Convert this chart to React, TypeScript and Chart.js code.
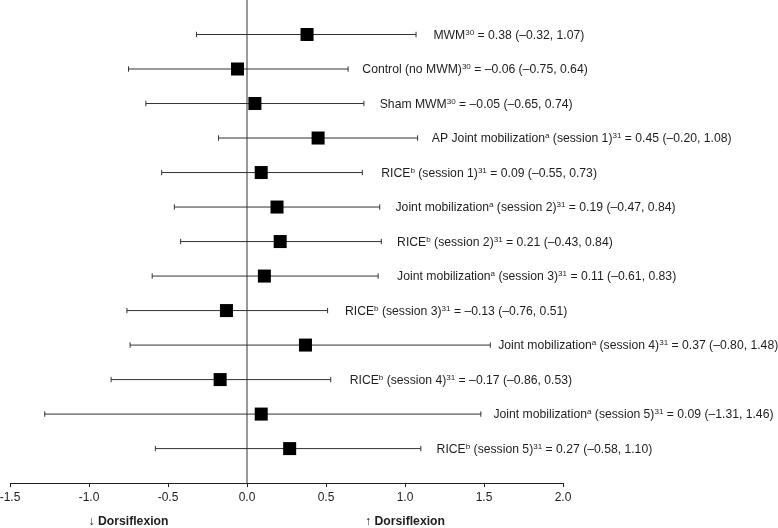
import React, { useEffect, useRef } from 'react';
import { Chart, registerables } from 'chart.js';

Chart.register(...registerables);

// ---- data ----
const rowLabels = [
  'MWM^{30} = 0.38 (–0.32, 1.07)',
  'Control (no MWM)^{30} = –0.06 (–0.75, 0.64)',
  'Sham MWM^{30} = –0.05 (–0.65, 0.74)',
  'AP Joint mobilization^{a} (session 1)^{31} = 0.45 (–0.20, 1.08)',
  'RICE^{b} (session 1)^{31} = 0.09 (–0.55, 0.73)',
  'Joint mobilization^{a} (session 2)^{31} = 0.19 (–0.47, 0.84)',
  'RICE^{b} (session 2)^{31} = 0.21 (–0.43, 0.84)',
  'Joint mobilization^{a} (session 3)^{31} = 0.11 (–0.61, 0.83)',
  'RICE^{b} (session 3)^{31} = –0.13 (–0.76, 0.51)',
  'Joint mobilization^{a} (session 4)^{31} = 0.37 (–0.80, 1.48)',
  'RICE^{b} (session 4)^{31} = –0.17 (–0.86, 0.53)',
  'Joint mobilization^{a} (session 5)^{31} = 0.09 (–1.31, 1.46)',
  'RICE^{b} (session 5)^{31} = 0.27 (–0.58, 1.10)',
];
const effect = [0.38, -0.06, 0.05, 0.45, 0.09, 0.19, 0.21, 0.11, -0.13, 0.37, -0.17, 0.09, 0.27];
const lower = [-0.32, -0.75, -0.64, -0.18, -0.54, -0.46, -0.42, -0.6, -0.76, -0.74, -0.86, -1.28, -0.58];
const upper = [1.07, 0.64, 0.74, 1.08, 0.73, 0.84, 0.85, 0.83, 0.51, 1.54, 0.53, 1.48, 1.1];
const labelAnchor = [1.18, 0.73, 0.84, 1.17, 0.85, 0.94, 0.95, 0.95, 0.62, 1.59, 0.65, 1.56, 1.2];
const xTicks = [-1.5, -1.0, -0.5, 0.0, 0.5, 1.0, 1.5, 2.0];
const directionNotes = ['↓ Dorsiflexion', '↑ Dorsiflexion'];
const directionAt = [-0.75, 1.0];

const FONT = '"Liberation Sans", Arial, Helvetica, sans-serif';
const TEXT = '#1e1e1e';

function drawRich(ctx: CanvasRenderingContext2D, x: number, yMid: number, text: string, size: number) {
  const supSize = size * 0.66;
  const baseline = yMid + size * 0.36;
  const re = /\^\{([^}]*)\}/g;
  let last = 0;
  let m: RegExpExecArray | null;
  const parts: { t: string; sup: boolean }[] = [];
  while ((m = re.exec(text))) {
    if (m.index > last) parts.push({ t: text.slice(last, m.index), sup: false });
    parts.push({ t: m[1], sup: true });
    last = m.index + m[0].length;
  }
  if (last < text.length) parts.push({ t: text.slice(last), sup: false });
  ctx.textAlign = 'left';
  ctx.textBaseline = 'alphabetic';
  let cx = x;
  for (const p of parts) {
    ctx.font = `${p.sup ? supSize : size}px ${FONT}`;
    ctx.fillText(p.t, cx, p.sup ? baseline - size * 0.33 : baseline);
    cx += ctx.measureText(p.t).width;
  }
}

const annotations = {
  id: 'forestText',
  afterDatasetsDraw(chart: any) {
    const { ctx, scales } = chart;
    const xs = scales.x;
    const ys = scales.y;
    ctx.save();
    ctx.fillStyle = TEXT;
    rowLabels.forEach((t, i) => {
      drawRich(ctx, xs.getPixelForValue(labelAnchor[i]), ys.getPixelForValue(i + 1), t, 12.2);
    });
    ctx.font = `bold 12.2px ${FONT}`;
    ctx.textAlign = 'center';
    ctx.textBaseline = 'middle';
    directionNotes.forEach((t, i) => {
      ctx.fillText(t, xs.getPixelForValue(directionAt[i]), 522);
    });
    ctx.restore();
  },
};

export default function App() {
  const ref = useRef<HTMLCanvasElement | null>(null);
  useEffect(() => {
    if (!ref.current) return;
    const datasets: any[] = [];
    datasets.push({
      data: effect.map((v, i) => ({ x: v, y: i + 1 })),
      pointStyle: 'rect',
      pointRadius: 9.2,
      pointBackgroundColor: '#000',
      pointBorderWidth: 0,
      showLine: false,
      order: 0,
    });
    lower.forEach((lo, i) => {
      datasets.push({
        data: [
          { x: lo, y: i + 1 },
          { x: upper[i], y: i + 1 },
        ],
        showLine: true,
        borderColor: '#333',
        borderWidth: 1,
        pointStyle: 'line',
        rotation: 90,
        pointRadius: 2.7,
        pointBorderColor: '#333',
        pointBorderWidth: 1,
        order: 1,
      });
    });
    datasets.push({
      data: [
        { x: 0, y: 0 },
        { x: 0, y: 14 },
      ],
      showLine: true,
      borderColor: '#7a7a7a',
      borderWidth: 1.5,
      pointRadius: 0,
      order: 2,
    });

    const chart = new Chart(ref.current, {
      type: 'scatter',
      data: { datasets },
      plugins: [annotations],
      options: {
        animation: false,
        responsive: false,
        events: [],
        layout: { autoPadding: false, padding: { left: 10, right: 215, top: 0, bottom: 20.5 } },
        plugins: { legend: { display: false }, tooltip: { enabled: false } },
        scales: {
          x: {
            type: 'linear',
            min: -1.5,
            max: 2.0,
            afterBuildTicks: (s: any) => {
              s.ticks = xTicks.map((v) => ({ value: v }));
            },
            afterFit: (s: any) => {
              s.paddingLeft = 0;
              s.paddingRight = 0;
            },
            ticks: {
              callback: (v: any) => Number(v).toFixed(1),
              font: { family: FONT, size: 12 },
              color: TEXT,
              padding: 3,
              maxRotation: 0,
            },
            grid: { drawOnChartArea: false, drawTicks: true, tickLength: 4, color: '#222' },
            border: { display: true, color: '#222', width: 1 },
          },
          y: {
            type: 'linear',
            min: 0,
            max: 14,
            reverse: true,
            display: false,
          },
        },
      },
    });
    return () => chart.destroy();
  }, []);
  return (
    <div style={{ position: 'fixed', left: 0, top: 0, width: 778, height: 528, background: '#fff' }}>
      <canvas ref={ref} width={778} height={528} style={{ display: 'block' }} />
    </div>
  );
}
